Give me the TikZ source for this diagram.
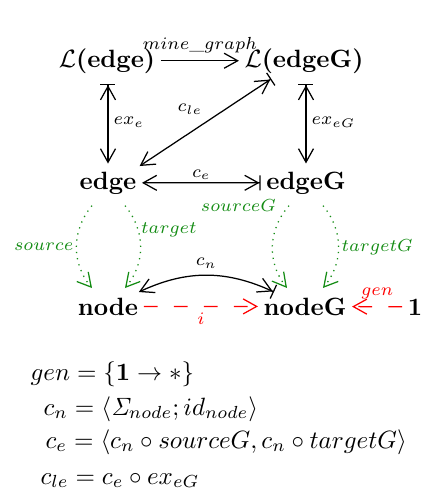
\documentclass[tikz,border=0pt]{standalone}
\usepackage{amsmath,amssymb}
\usetikzlibrary{arrows.meta,calc}
\definecolor{dgreen}{RGB}{20,140,20}
\definecolor{dred}{RGB}{255,0,0}
\tikzset{
  hd/.tip={Straight Barb[length=5.4pt,width=6pt]},
  obj/.style={anchor=base, inner sep=2pt},
  lbl/.style={font=\scriptsize, inner sep=1pt},
  bimap/.style={{hd}-{hd[]Bar[width=6pt]}},
  greenarr/.style={draw=dgreen, dotted, -{hd[dgreen]}},
  greenlbl/.style={lbl, text=dgreen},
  redarr/.style={draw=dred, dash pattern=on 5.5pt off 6.5pt, -{hd[dred]}},
  redlbl/.style={lbl, text=dred},
  eq/.style={anchor=base west, inner sep=0pt}
}
\begin{document}
\begin{tikzpicture}[x=0.4pt,y=-0.4pt, line width=0.5pt]
\useasboundingbox (0,0) rectangle (424,502);
% objects
\node[obj] (Le)    at (107,67)  {$\mathcal{L}$\textbf{(edge)}};
\node[obj] (LeG)   at (304,67)  {$\mathcal{L}$\textbf{(edgeG)}};
\node[obj] (edge)  at (108,189) {\textbf{edge}};
\node[obj] (edgeG) at (306,189) {\textbf{edgeG}};
\node[obj] (node)  at (108,315) {\textbf{node}};
\node[obj] (nodeG) at (305,315) {\textbf{nodeG}};
\node[obj] (one)   at (415,315) {\textbf{1}};
% black arrows
\draw[-{hd}] (Le) -- (LeG) node[lbl, midway, above=2pt] {$mine\_graph$};
\draw[bimap, shorten <=1pt, shorten >=2pt] (edge.north) -- (edge.north |- Le.south)
  node[lbl, midway, right=1pt] {$ex_e$};
\draw[bimap, shorten <=1pt, shorten >=2pt] (edgeG.north) -- (edgeG.north |- LeG.south)
  node[lbl, midway, right=1pt] {$ex_{eG}$};
\draw[bimap] (edge.28) -- (LeG.209)
  node[lbl, pos=.5, anchor=south east, yshift=2pt] {$c_{le}$};
\draw[bimap] (edge) -- (edgeG) node[lbl, midway, above] {$c_e$};
\draw[bimap] (node.25) to[bend left=25] node[lbl, midway, above=1.5pt] {$c_n$} (nodeG.155);
% green dotted
\draw[greenarr] ([shift={(-16,6)}]edge.south) to[bend right=40]
  node[greenlbl, midway, left] {$source$} ([shift={(-16,-4)}]node.north);
\draw[greenarr] ([shift={(17,6)}]edge.south) to[bend left=40]
  node[greenlbl, pos=.3, right] {$target$} ([shift={(17,-4)}]node.north);
\draw[greenarr] ([shift={(-17,6)}]edgeG.south) to[bend right=40]
  node[greenlbl, pos=0, left=4pt] {$sourceG$} ([shift={(-18,-4)}]nodeG.north);
\draw[greenarr] ([shift={(17,6)}]edgeG.south) to[bend left=40]
  node[greenlbl, midway, right] {$targetG$} ([shift={(18,-4)}]nodeG.north);
% red dashed
\draw[redarr] (node) -- (nodeG) node[redlbl, midway, below=1.5pt] {$i$};
\draw[redarr] (one) -- (nodeG) node[redlbl, midway, above=2pt] {$gen$};
% equations
\node[eq] (e1) at (30,380) {$gen = \{\mathbf{1} \to *\}$};
\node[eq] (e2) at (43,415) {$c_n = \langle \mathit{\Sigma}_{node}; id_{node}\rangle$};
\node[eq] (e3) at (45,448) {$c_e = \langle c_n \circ sourceG, c_n \circ targetG\rangle$};
\node[eq] (e4) at (40,484) {$c_{le} = c_e \circ ex_{eG}$};
\end{tikzpicture}
\end{document}
